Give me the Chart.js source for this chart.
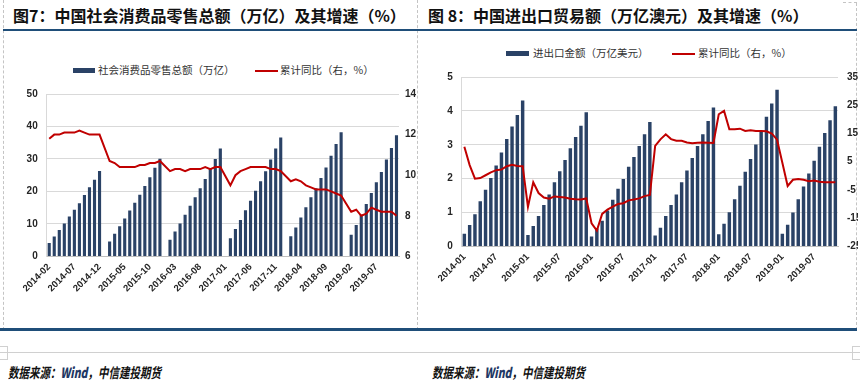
<!DOCTYPE html>
<html><head><meta charset="utf-8">
<script src="https://cdn.jsdelivr.net/npm/chart.js@4.4.1/dist/chart.umd.min.js"></script>
<style>
html,body{margin:0;padding:0;background:#fff;}
body{width:860px;height:382px;position:relative;overflow:hidden;font-family:"Noto Sans CJK SC","Noto Sans",sans-serif;}
.abs{position:absolute;}
.title{font-weight:bold;font-size:16px;color:#111;top:5px;line-height:20px;white-space:nowrap;}
.blue{background:#1f4e79;height:2px;}
.vdash{border-left:1px dashed #c4c4c4;width:0;}
.leg{font-size:10.5px;color:#333;white-space:nowrap;line-height:14px;}
.sw{height:5px;background:#2a4266;}
.ln{height:2px;background:#c00000;}
.src{font-style:italic;font-weight:bold;font-size:14px;color:#111;white-space:nowrap;transform:scaleX(0.75);transform-origin:left center;line-height:16px;}
.src b{color:#1f3864;}
</style></head>
<body>
<div class="abs vdash" style="left:3px;top:0;height:330px;"></div>
<div class="abs vdash" style="left:417px;top:0;height:330px;"></div>
<div class="abs vdash" style="left:856px;top:3px;height:327px;"></div>
<div class="abs" style="left:843px;top:2px;width:14px;border-top:1px dashed #c4c4c4;"></div>

<div class="abs title" style="left:13px;">图7：中国社会消费品零售总额（万亿）及其增速（%）</div>
<div class="abs title" style="left:428px;">图 8：中国进出口贸易额（万亿澳元）及其增速（%）</div>
<div class="abs blue" style="left:3px;top:29px;width:854px;"></div>

<div class="abs sw" style="left:73px;top:68px;width:22px;"></div>
<div class="abs leg" style="left:98px;top:63px;">社会消费品零售总额（万亿）</div>
<div class="abs ln" style="left:255px;top:70px;width:23px;"></div>
<div class="abs leg" style="left:280px;top:63px;">累计同比（右，%）</div>

<div class="abs sw" style="left:506px;top:51px;width:23px;"></div>
<div class="abs leg" style="left:533px;top:46px;">进出口金额（万亿美元）</div>
<div class="abs ln" style="left:672px;top:53px;width:23px;"></div>
<div class="abs leg" style="left:698px;top:46px;">累计同比（右，%）</div>

<div class="abs" style="left:0;top:79px;width:418px;height:251px;"><canvas id="c1" width="418" height="251"></canvas></div>
<div class="abs" style="left:425px;top:62px;width:433px;height:268px;overflow:hidden;"><canvas id="c2" width="433" height="268"></canvas></div>

<div class="abs blue" style="left:0;top:328px;width:857px;height:3px;"></div>
<div class="abs" style="left:0;top:352px;width:860px;border-top:1px solid #d0d0d0;"></div>
<div class="abs" style="left:0;top:346px;width:7px;height:12px;border:1px solid #d0d0d0;border-left:none;"></div>
<div class="abs" style="left:852px;top:346px;width:7px;height:12px;border:1px solid #d0d0d0;border-right:none;"></div>
<div class="abs src" style="left:8px;top:364px;">数据来源：<b>Wind</b>，中信建投期货</div>
<div class="abs src" style="left:432px;top:364px;">数据来源：<b>Wind</b>，中信建投期货</div>

<script>
// ---------- Figure 7: retail sales ----------
const retailMonths = [
'2014-02','2014-03','2014-04','2014-05','2014-06','2014-07','2014-08','2014-09','2014-10','2014-11','2014-12',
'2015-01','2015-02','2015-03','2015-04','2015-05','2015-06','2015-07','2015-08','2015-09','2015-10','2015-11','2015-12',
'2016-01','2016-02','2016-03','2016-04','2016-05','2016-06','2016-07','2016-08','2016-09','2016-10','2016-11','2016-12',
'2017-01','2017-02','2017-03','2017-04','2017-05','2017-06','2017-07','2017-08','2017-09','2017-10','2017-11','2017-12',
'2018-01','2018-02','2018-03','2018-04','2018-05','2018-06','2018-07','2018-08','2018-09','2018-10','2018-11','2018-12',
'2019-01','2019-02','2019-03','2019-04','2019-05','2019-06','2019-07','2019-08','2019-09','2019-10','2019-11'];
const retailTickLabels = ['2014-02','2014-07','2014-12','2015-05','2015-10','2016-03','2016-08','2017-01','2017-06','2017-11','2018-04','2018-09','2019-02','2019-07'];
const retailTotal = [
4.1,6.1,8.1,10.1,12.3,14.4,16.4,18.9,21.3,23.6,26.3,
null,4.6,7.0,9.3,11.7,14.1,16.5,19.0,21.7,24.4,27.3,30.1,
null,5.1,7.7,10.1,12.8,15.6,18.2,21.0,23.8,26.9,30.0,33.2,
null,5.6,8.4,11.2,14.2,17.1,20.2,23.1,26.2,29.8,33.2,36.6,
null,6.2,8.9,12.0,15.1,18.2,21.0,24.1,27.4,31.0,34.6,38.2,
null,6.7,9.7,12.8,16.1,19.5,22.8,26.0,29.8,33.4,37.3];
const retailYoY = [
11.8,12.0,12.0,12.1,12.1,12.1,12.2,12.1,12.0,12.0,12.0,
null,10.7,10.6,10.4,10.4,10.4,10.4,10.5,10.5,10.6,10.6,10.7,
null,10.2,10.3,10.3,10.2,10.3,10.3,10.3,10.4,10.3,10.4,10.4,
null,9.5,10.0,10.2,10.3,10.4,10.4,10.4,10.4,10.3,10.3,10.2,
null,9.7,9.8,9.7,9.5,9.4,9.3,9.3,9.3,9.2,9.1,9.0,
null,8.2,8.3,8.0,8.1,8.4,8.3,8.2,8.2,8.2,8.0];

// ---------- Figure 8: trade ----------
const tradeMonths = [
'2014-01','2014-02','2014-03','2014-04','2014-05','2014-06','2014-07','2014-08','2014-09','2014-10','2014-11','2014-12',
'2015-01','2015-02','2015-03','2015-04','2015-05','2015-06','2015-07','2015-08','2015-09','2015-10','2015-11','2015-12',
'2016-01','2016-02','2016-03','2016-04','2016-05','2016-06','2016-07','2016-08','2016-09','2016-10','2016-11','2016-12',
'2017-01','2017-02','2017-03','2017-04','2017-05','2017-06','2017-07','2017-08','2017-09','2017-10','2017-11','2017-12',
'2018-01','2018-02','2018-03','2018-04','2018-05','2018-06','2018-07','2018-08','2018-09','2018-10','2018-11','2018-12',
'2019-01','2019-02','2019-03','2019-04','2019-05','2019-06','2019-07','2019-08','2019-09','2019-10','2019-11'];
const tradeTickLabels = ['2014-01','2014-07','2015-01','2015-07','2016-01','2016-07','2017-01','2017-07','2018-01','2018-07','2019-01','2019-07'];
const tradeTotal = [
0.37,0.63,0.95,1.33,1.67,2.02,2.39,2.77,3.17,3.54,3.88,4.31,
0.34,0.60,0.90,1.22,1.53,1.89,2.22,2.55,2.90,3.23,3.56,3.96,
0.29,0.53,0.76,1.06,1.38,1.70,1.99,2.35,2.64,2.96,3.31,3.67,
0.32,0.55,0.90,1.22,1.53,1.89,2.24,2.61,2.96,3.31,3.70,4.10,
0.36,0.67,1.01,1.39,1.79,2.20,2.58,3.01,3.40,3.83,4.22,4.62,
0.37,0.64,1.00,1.39,1.77,2.15,2.53,2.94,3.35,3.72,4.14];
const tradeYoY = [
10.3,3.8,-1.0,-0.8,0.2,1.2,2.0,2.2,3.4,3.9,3.5,3.4,
-11.0,-2.3,-6.1,-7.7,-8.1,-7.3,-7.5,-7.7,-8.1,-8.3,-8.4,-8.0,
-16.8,-19.4,-13.5,-12.0,-10.9,-10.0,-9.7,-8.7,-8.4,-8.0,-7.2,-6.8,
10.6,12.9,14.7,13.0,12.4,12.4,11.8,11.5,11.7,11.8,11.7,11.6,
21.8,23.0,16.5,16.5,16.7,15.9,16.1,15.9,15.9,15.8,15.0,12.8,
4.6,-3.6,-1.4,-1.1,-1.4,-1.9,-1.7,-2.1,-2.3,-2.3,-2.3];

const BAR = '#2a4266', RED = '#c00000', TXT = '#262626';
const yFont = {family:'"Liberation Sans", Arial, sans-serif', size:10, weight:'bold'};
const xFont = {family:'"Liberation Sans Narrow","Liberation Sans", Arial, sans-serif', size:9.5, weight:'bold'};

function build(id, labels, tickLabels, bars, line, g) {
  return new Chart(document.getElementById(id), {
    data: {
      labels: labels,
      datasets: [
        {type:'line', data: line, yAxisID:'y1', borderColor:RED, backgroundColor:RED, borderWidth:2,
         pointRadius:0, tension:0, spanGaps:true, order:0},
        {type:'bar', data: bars, yAxisID:'y', backgroundColor:BAR, barPercentage:g.barPct, categoryPercentage:1, order:1}
      ]
    },
    options: {
      responsive:false, animation:false, devicePixelRatio:1,
      layout:{padding:{top:0,left:0,right:0,bottom:0}},
      plugins:{legend:{display:false}, tooltip:{enabled:false}},
      scales:{
        x:{
          grid:{display:false, drawTicks:false},
          border:{display:true,color:'#bfbfbf'},
          ticks:{autoSkip:false, minRotation:45, maxRotation:45, padding:g.xPad, color:TXT, font:xFont,
            callback:function(v){ const l=this.getLabelForValue(v); return tickLabels.includes(l)?l:''; }},
          afterFit:function(s){ s.height = g.xH; }
        },
        y:{
          position:'left', min:g.yMin, max:g.yMax,
          grid:{color:'#d9d9d9', drawTicks:false},
          border:{display:true,color:'#d9d9d9'},
          ticks:{stepSize:g.yStep, padding:g.yPad, color:TXT, font:yFont},
          afterFit:function(s){ s.width = g.yW; }
        },
        y1:{
          position:'right', min:g.y1Min, max:g.y1Max,
          grid:{display:false, drawTicks:false},
          border:{display:false},
          ticks:{stepSize:g.y1Step, padding:g.y1Pad, color:TXT, font:yFont},
          afterFit:function(s){ s.width = g.y1W; }
        }
      }
    }
  });
}

// chart area top = max tick padding + half label height (9 + 6 = 15px) below canvas top
build('c1', retailMonths, retailTickLabels, retailTotal, retailYoY,
  {xH:73.6, yW:46.7, y1W:19, yMin:0, yMax:50, yStep:10, y1Min:6, y1Max:14, y1Step:2,
   barPct:0.62, xPad:5, yPad:9, y1Pad:6});
build('c2', tradeMonths, tradeTickLabels, tradeTotal, tradeYoY,
  {xH:83.6, yW:36.7, y1W:20, yMin:0, yMax:5, yStep:1, y1Min:-25, y1Max:35, y1Step:10,
   barPct:0.65, xPad:5, yPad:9, y1Pad:9});
</script>
</body></html>
